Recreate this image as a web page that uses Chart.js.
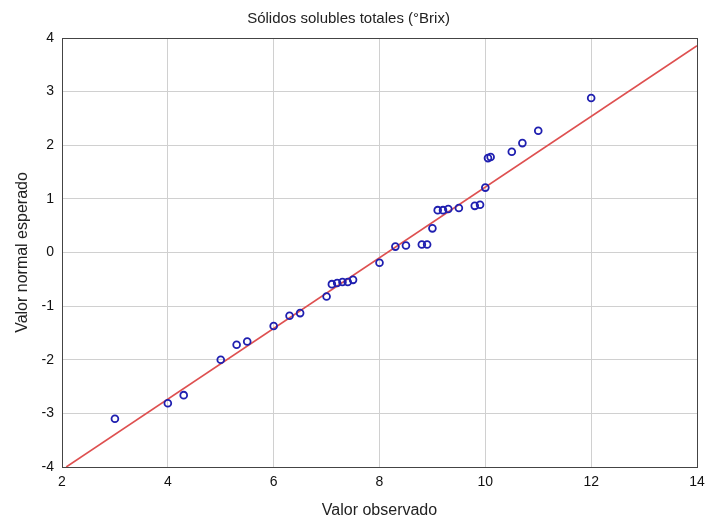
<!DOCTYPE html>
<html>
<head>
<meta charset="utf-8">
<script src="https://cdn.jsdelivr.net/npm/chart.js@4"></script>
<style>
  html, body { margin: 0; padding: 0; background: #fff; }
  #wrap { width: 708px; height: 523px; }
</style>
</head>
<body>
<div id="wrap"><canvas id="chart1"></canvas></div>
<script>
// observed values and expected normal values
const observed = [3, 4, 4.3, 5, 5.3, 5.5, 6, 6.3, 6.5, 7, 7.1, 7.2, 7.3, 7.4, 7.5, 8, 8.3, 8.5,
    8.8, 8.9, 9, 9.1, 9.2, 9.3, 9.5, 9.8, 9.9, 10, 10.05, 10.1, 10.5, 10.7, 11, 12];
const expected = [-3.1, -2.81, -2.66, -2.0, -1.72, -1.66, -1.37, -1.18, -1.13, -0.82, -0.59, -0.57,
    -0.55, -0.55, -0.51, -0.19, 0.11, 0.13, 0.15, 0.15, 0.45, 0.79, 0.79, 0.81, 0.83, 0.87, 0.89,
    1.21, 1.76, 1.78, 1.88, 2.04, 2.27, 2.88];
// reference line end points
const lineX = [2.08, 14];
const lineY = [-4, 3.855];

const xTicks = [2, 4, 6, 8, 10, 12, 14];
const yTicks = [-4, -3, -2, -1, 0, 1, 2, 3, 4];

const font = 'Liberation Sans, Arial, sans-serif';

function frameColor(ctx, n) {
    if (ctx.index === 0 || ctx.index === n - 1) return '#444';
    return '#d0d0d0';
}

const config = {
    type: 'scatter',
    data: {
        datasets: [
            {
                data: observed.map((v, i) => ({x: v, y: expected[i]})),
                pointStyle: 'circle',
                pointRadius: 3.4,
                pointBorderWidth: 1.8,
                pointBorderColor: '#1f1fb0',
                pointBackgroundColor: 'rgba(255,255,255,0)',
                order: 1
            },
            {
                type: 'line',
                data: lineX.map((v, i) => ({x: v, y: lineY[i]})),
                borderColor: 'rgb(222, 80, 80)',
                borderWidth: 1.6,
                pointRadius: 0,
                fill: false,
                order: 2
            }
        ]
    },
    options: {
        responsive: true,
        maintainAspectRatio: false,
        animation: false,
        layout: {
            padding: {left: 0, right: 11, top: 0, bottom: 0}
        },
        scales: {
            x: {
                type: 'linear',
                min: 2,
                max: 14,
                afterBuildTicks: s => { s.ticks = xTicks.map(v => ({value: v})); },
                afterFit: s => { s.height = 56; s.paddingRight = 0; s.paddingLeft = 0; },
                grid: {
                    color: ctx => frameColor(ctx, xTicks.length),
                    drawTicks: false
                },
                border: {color: '#444', width: 1},
                ticks: {
                    padding: 7,
                    color: '#111',
                    font: {family: font, size: 14}
                },
                title: {
                    display: true,
                    text: 'Valor observado',
                    color: '#222',
                    font: {family: font, size: 16},
                    padding: {top: 0, bottom: 3}
                }
            },
            y: {
                type: 'linear',
                min: -4,
                max: 4,
                afterBuildTicks: s => { s.ticks = yTicks.map(v => ({value: v})); },
                afterFit: s => { s.width = 62; s.paddingTop = 0; s.paddingBottom = 0; },
                grid: {
                    color: ctx => frameColor(ctx, yTicks.length),
                    drawTicks: false
                },
                border: {color: '#444', width: 1},
                ticks: {
                    padding: 8,
                    color: '#111',
                    font: {family: font, size: 14}
                },
                title: {
                    display: true,
                    text: 'Valor normal esperado',
                    color: '#222',
                    font: {family: font, size: 16},
                    padding: {top: 13, bottom: 0}
                }
            }
        },
        plugins: {
            title: {
                display: true,
                text: 'Sólidos solubles totales (°Brix)',
                color: '#222',
                font: {family: font, size: 15, weight: 'normal'},
                padding: {top: 10, bottom: 10}
            },
            legend: {
                display: false
            },
            tooltip: {
                enabled: false
            }
        }
    }
};

var myScatter = new Chart(
    document.getElementById('chart1'),
    config
);
</script>
</body>
</html>
